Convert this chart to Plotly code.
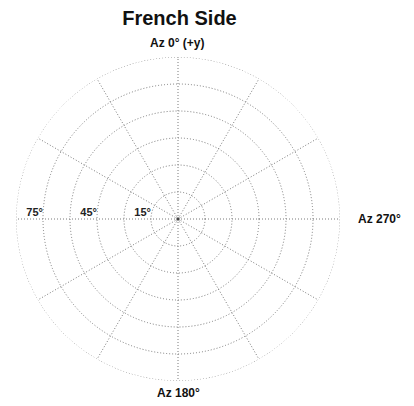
import plotly.graph_objects as go

title_text = "French Side"
ring_values = [15, 30, 45, 60, 75, 90]
outer_ring = 90
ring_label_values = [15, 45, 75]
ring_label_text = ["15°", "45°", "75°"]
spoke_step = 30
az_labels = ["Az 0° (+y)", "Az 270°", "Az 180°"]

# page has an 8px body margin; figure coordinates = page - 8
OFF = 8
W, H = 414 - OFF, 406 - OFF
L, T, S = 16 - OFF, 57 - OFF, 324
GRID = "#7a7a7a"
FONT = "Liberation Sans, Arial, sans-serif"

fig = go.Figure()
circle_theta = list(range(0, 361, 1))
fig.add_trace(go.Scatterpolar(
    r=[outer_ring] * len(circle_theta), theta=circle_theta, mode="lines",
    line=dict(color=GRID, width=1, dash="1px,2px"),
    hoverinfo="skip", showlegend=False, cliponaxis=False))
fig.add_trace(go.Scatterpolar(
    r=ring_label_values, theta=[90] * len(ring_label_values),
    mode="text", text=["<b>%s</b>" % t for t in ring_label_text], textposition="top left",
    textfont=dict(family=FONT, size=11, color="#222"),
    hoverinfo="skip", showlegend=False, cliponaxis=False))
fig.add_trace(go.Scatterpolar(
    r=[0], theta=[0], mode="markers",
    marker=dict(symbol="square", size=3, color="#444"),
    hoverinfo="skip", showlegend=False))

fig.update_layout(
    width=W, height=H,
    margin=dict(l=L, r=W - L - S, t=T, b=H - T - S, pad=0),
    paper_bgcolor="white", plot_bgcolor="white",
    showlegend=False,
    title=dict(text="<b>%s</b>" % title_text, x=(179.5 - OFF) / W, xanchor="center",
               y=1 - (17.5 - OFF) / H, yanchor="middle",
               font=dict(family=FONT, size=20, color="#111")),
    polar=dict(
        bgcolor="white",
        domain=dict(x=[0, 1], y=[0, 1]),
        radialaxis=dict(range=[0, outer_ring], tickvals=ring_values, showticklabels=False,
                        ticks="", showline=False, showgrid=True, gridcolor=GRID,
                        gridwidth=1, griddash="1px,2px"),
        angularaxis=dict(rotation=90, direction="counterclockwise", dtick=spoke_step,
                         showticklabels=False, ticks="", showline=False,
                         showgrid=True, gridcolor=GRID, gridwidth=1, griddash="1px,2px"),
    ),
)

def pxx(x):
    return (x - OFF - L) / S

def pyy(y):
    return 1 - (y - OFF - T) / S

fig.add_annotation(xref="paper", yref="paper", showarrow=False,
                   xanchor="center", yanchor="middle",
                   x=pxx(177), y=pyy(43.5),
                   text="<b>%s</b>" % az_labels[0],
                   font=dict(family=FONT, size=12, color="#111"))
fig.add_annotation(xref="paper", yref="paper", showarrow=False,
                   xanchor="left", yanchor="middle",
                   x=pxx(356), y=pyy(219),
                   text="<b>%s</b>" % az_labels[1],
                   font=dict(family=FONT, size=12, color="#111"))
fig.add_annotation(xref="paper", yref="paper", showarrow=False,
                   xanchor="center", yanchor="middle",
                   x=pxx(178), y=pyy(393),
                   text="<b>%s</b>" % az_labels[2],
                   font=dict(family=FONT, size=12, color="#111"))

fig.write_html("out.html")
